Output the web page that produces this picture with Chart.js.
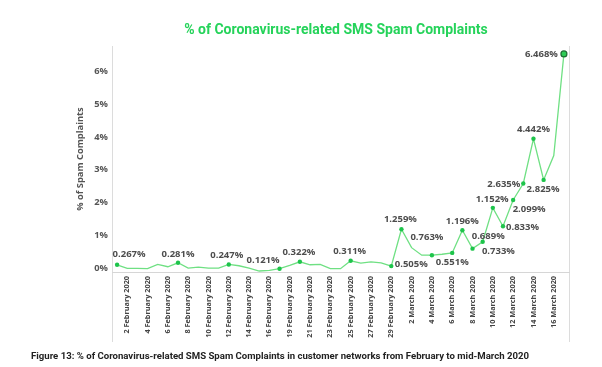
<!DOCTYPE html>
<html>
<head>
<meta charset="utf-8">
<script src="https://cdn.jsdelivr.net/npm/chart.js@4.4.1/dist/chart.umd.min.js"></script>
<style>
  html, body { margin: 0; padding: 0; background: #fff; }
  #wrap { position: relative; width: 602px; height: 367px; }
  #title {
    position: absolute; left: 0; width: 672px; top: 21px; text-align: center;
    font: bold 14px Roboto, sans-serif; color: #25d35a; white-space: nowrap;
  }
  #caption {
    position: absolute; left: 31px; top: 350px;
    font: bold 9.6px "Liberation Sans Narrow", "Roboto", sans-serif; color: #222; white-space: nowrap;
  }
</style>
</head>
<body>
<div id="wrap">
  <canvas id="chart" width="602" height="367"></canvas>
  <div id="title">% of Coronavirus-related SMS Spam Complaints</div>
  <div id="caption">Figure 13: % of Coronavirus-related SMS Spam Complaints in customer networks from February to mid-March 2020</div>
</div>
<script>
// one entry per day (18 February is not in the series)
const categories = [
  "1 February 2020", "2 February 2020", "3 February 2020", "4 February 2020", "5 February 2020",
  "6 February 2020", "7 February 2020", "8 February 2020", "9 February 2020", "10 February 2020",
  "11 February 2020", "12 February 2020", "13 February 2020", "14 February 2020", "15 February 2020",
  "16 February 2020", "17 February 2020", "19 February 2020", "20 February 2020", "21 February 2020",
  "22 February 2020", "23 February 2020", "24 February 2020", "25 February 2020", "26 February 2020",
  "27 February 2020", "28 February 2020", "29 February 2020", "1 March 2020", "2 March 2020",
  "3 March 2020", "4 March 2020", "5 March 2020", "6 March 2020", "7 March 2020",
  "8 March 2020", "9 March 2020", "10 March 2020", "11 March 2020", "12 March 2020",
  "13 March 2020", "14 March 2020", "15 March 2020", "16 March 2020", "17 March 2020"
];

// % of spam complaints
const spamShare = [
  0.22, 0.11, 0.11, 0.10, 0.23, 0.16, 0.28, 0.12, 0.15, 0.12,
  0.12, 0.23, 0.19, 0.12, 0.03, 0.05, 0.10, 0.20, 0.31, 0.22,
  0.23, 0.10, 0.10, 0.34, 0.27, 0.31, 0.28, 0.18, 1.30, 0.74,
  0.51, 0.51, 0.54, 0.58, 1.27, 0.71, 0.92, 1.95, 1.39, 2.19,
  2.69, 4.05, 2.80, 3.54, 6.63
];

// data label texts as printed on the chart
const pointText = [];
pointText[0] = "0.267%";
pointText[6] = "0.281%";
pointText[11] = "0.247%";
pointText[16] = "0.121%";
pointText[18] = "0.322%";
pointText[23] = "0.311%";
pointText[27] = "0.505%";
pointText[28] = "1.259%";
pointText[31] = "0.763%";
pointText[33] = "0.551%";
pointText[34] = "1.196%";
pointText[35] = "0.689%";
pointText[36] = "0.733%";
pointText[37] = "1.152%";
pointText[38] = "0.833%";
pointText[39] = "2.099%";
pointText[40] = "2.635%";
pointText[41] = "4.442%";
pointText[42] = "2.825%";
pointText[44] = "6.468%";

const yTicks = [0, 1, 2, 3, 4, 5, 6];

const last = spamShare.length - 1;

// where each label sits relative to its point
const labelOffsets = {
  0: [12, -10], 6: [0, -8.5], 11: [-2, -9], 16: [-16.5, -8], 18: [-1, -9.5],
  23: [-1, -10], 27: [20, -1.5], 28: [-1, -9.5], 31: [-5, -17.5], 33: [0, 9],
  34: [0, -9.3], 35: [15.7, -12.7], 36: [15.7, 9.7], 37: [-0.7, -8.7], 38: [19.5, 0.7],
  39: [16, 9], 40: [-19.5, 0.6], 41: [0, -9], 42: [-0.5, 9.4], 44: [-22.5, 0]
};

const pointLabels = {
  id: "pointLabels",
  afterDatasetsDraw(chart, args, opts) {
    const ctx = chart.ctx;
    const meta = chart.getDatasetMeta(0);
    ctx.save();
    ctx.font = opts.font;
    ctx.fillStyle = opts.color;
    ctx.textAlign = "center";
    ctx.textBaseline = "middle";
    pointText.forEach(function (t, i) {
      if (!t) return;
      const p = meta.data[i];
      const off = labelOffsets[i] || [0, -9];
      ctx.fillText(t, p.x + off[0], p.y + off[1]);
    });
    ctx.restore();
  }
};

const frame = {
  id: "frame",
  beforeDraw(chart, args, opts) {
    const ctx = chart.ctx;
    const a = chart.chartArea;
    ctx.save();
    ctx.strokeStyle = opts.color;
    ctx.lineWidth = 1;
    ctx.beginPath();
    [a.left, a.right].forEach(function (x) {
      ctx.moveTo(Math.round(x) + 0.5, opts.top);
      ctx.lineTo(Math.round(x) + 0.5, opts.bottom);
    });
    ctx.stroke();
    ctx.restore();
  }
};

new Chart(document.getElementById("chart"), {
  type: "line",
  data: {
    labels: categories,
    datasets: [{
      data: spamShare,
      borderColor: "#6fe083",
      borderWidth: 1.3,
      tension: 0,
      pointRadius: c => pointText[c.dataIndex] ? (c.dataIndex === last ? 3 : 2.2) : 0,
      pointBackgroundColor: c => c.dataIndex === last ? "#2ecc55" : "#1ec44b",
      pointBorderColor: c => c.dataIndex === last ? "#1d6e32" : "#1ec44b",
      pointBorderWidth: c => c.dataIndex === last ? 1.2 : 0
    }]
  },
  options: {
    responsive: false,
    animation: false,
    layout: { padding: { left: 72, right: 33, top: 46, bottom: 0 } },
    plugins: {
      legend: { display: false },
      tooltip: { enabled: false },
      pointLabels: { font: "bold 9.5px 'Open Sans'", color: "#4d4d4d" },
      frame: { color: "#dcdcdc", top: 46, bottom: 342 }
    },
    scales: {
      x: {
        offset: true,
        grid: { display: false, drawTicks: false },
        border: { display: true, color: "#d6d6d6" },
        afterFit: s => { s.height = 95; },
        ticks: {
          autoSkip: false,
          minRotation: 90,
          maxRotation: 90,
          padding: 4,
          color: "#444",
          font: { family: "Open Sans", size: 7.3, weight: "bold" },
          callback: function (v, i) { return i % 2 === 1 ? categories[i] : ""; }
        }
      },
      y: {
        min: 0,
        max: 6.87,
        grid: { display: false, drawTicks: false },
        border: { display: false },
        afterFit: s => { s.width = 40; },
        afterBuildTicks: s => { s.ticks = yTicks.map(v => ({ value: v })); },
        title: {
          display: true,
          text: "% of Spam Complaints",
          color: "#555",
          padding: { top: 3, bottom: 0 },
          font: { family: "Open Sans", size: 9.3, weight: "bold" }
        },
        ticks: {
          padding: 4,
          labelOffset: -3.5,
          color: "#555",
          font: { family: "Open Sans", size: 9.3, weight: "bold" },
          callback: v => v + "%"
        }
      }
    }
  },
  plugins: [pointLabels, frame]
});
</script>
</body>
</html>
